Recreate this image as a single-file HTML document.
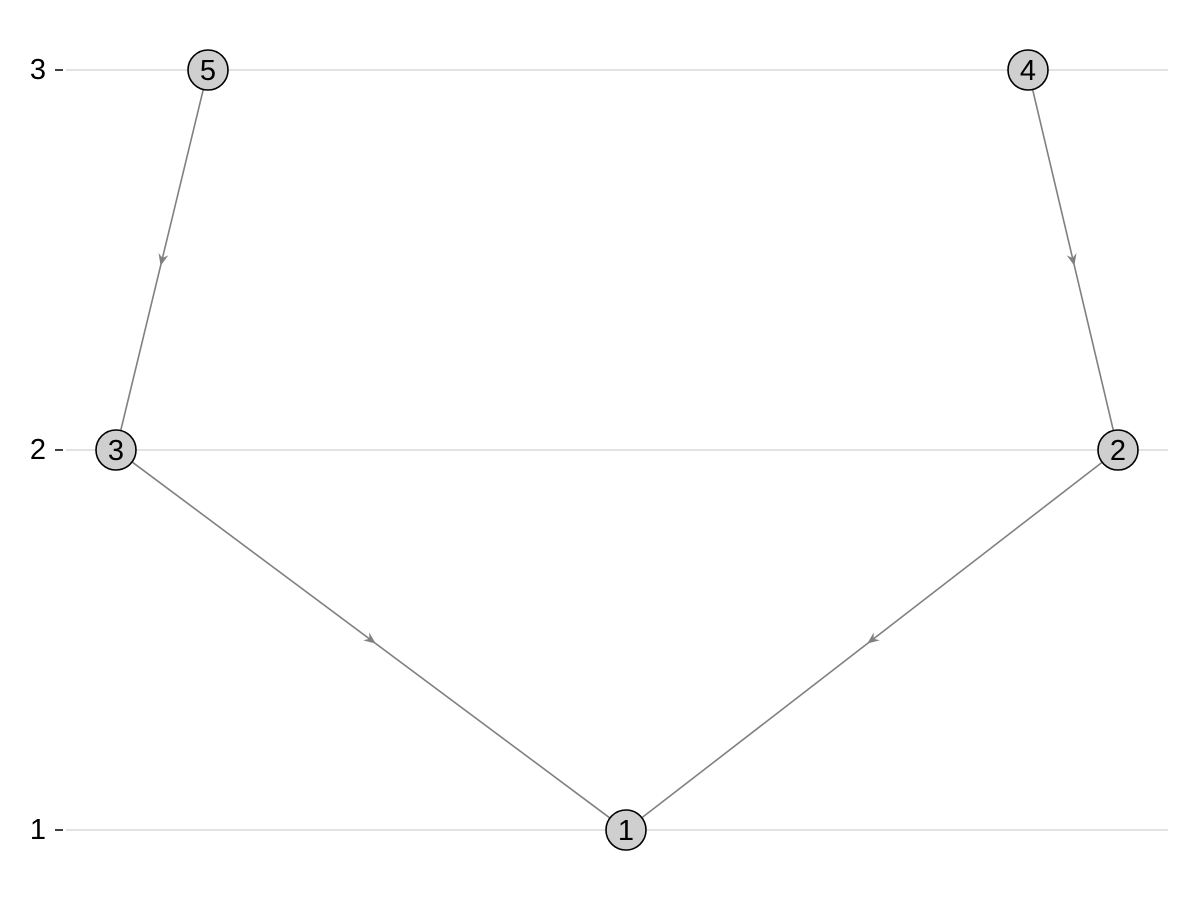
<!DOCTYPE html>
<html><head><meta charset="utf-8"><style>
body{margin:0;background:#fff;}
svg{display:block;font-family:"Liberation Sans",sans-serif;}
</style></head><body>
<svg id="chart" width="1200" height="900" viewBox="0 0 1200 900">
<g id="axis"></g>
<g id="edges"></g>
<g id="nodes"></g>
</svg>
<script>
const nodeIds = [1, 2, 3, 4, 5];
const nodeX = [626, 1118, 116, 1028, 208];
const nodeLevel = [1, 2, 2, 3, 3];
const edgeFrom = [5, 4, 3, 2];
const edgeTo = [3, 2, 1, 1];
const yTicks = [1, 2, 3];

const NS = "http://www.w3.org/2000/svg";
const yScale = v => 830 - (v - 1) * 380;
const R = 20;
const FS = 29;
function mk(tag, attrs, parent) {
  const e = document.createElementNS(NS, tag);
  for (const k in attrs) e.setAttribute(k, attrs[k]);
  parent.appendChild(e);
  return e;
}
const axis = document.getElementById('axis');
yTicks.forEach(t => {
  const y = yScale(t);
  const g = mk('line', {x1: 66, x2: 1168, y1: y, y2: y, stroke: '#d9d9d9', 'stroke-width': 1.5}, axis);
  
  
  const tk = mk('line', {x1: 55, x2: 63, y1: y, y2: y, stroke: '#000', 'stroke-width': 1.5}, axis);
  
  
  const tx = mk('text', {x: 38, y: y + 9, 'text-anchor': 'middle', fill: '#000', 'font-size': FS, 'font-family': 'Liberation Sans, sans-serif'}, axis);
  tx.textContent = t;
  
  
});
const pos = id => { const i = nodeIds.indexOf(id); return [nodeX[i], yScale(nodeLevel[i])]; };
const edges = document.getElementById('edges');
edgeFrom.forEach((f, i) => {
  const [x1, y1] = pos(f), [x2, y2] = pos(edgeTo[i]);
  const dx = x2 - x1, dy = y2 - y1, L = Math.hypot(dx, dy), ux = dx / L, uy = dy / L;
  const l = mk('line', {x1: x1 + ux * R, y1: y1 + uy * R, x2: x2 - ux * R, y2: y2 - uy * R, stroke: '#808080', 'stroke-width': 1.6}, edges);
  
  
  const mx = (x1 + x2) / 2 + ux * 6, my = (y1 + y2) / 2 + uy * 6;
  const bx = mx - ux * 12, by = my - uy * 12, nx = -uy, ny = ux;
  const cx = mx - ux * 8, cy = my - uy * 8;
  const p = mk('polygon', {points: `${mx},${my} ${bx + nx * 5},${by + ny * 5} ${cx},${cy} ${bx - nx * 5},${by - ny * 5}`, fill: '#808080'}, edges);
  
  
});
const nodes = document.getElementById('nodes');
nodeIds.forEach((id) => {
  const [x, y] = pos(id);
  const c = mk('circle', {cx: x, cy: y, r: R, fill: '#cfcfcf', stroke: '#000', 'stroke-width': 1.6}, nodes);
  
  
  const t = mk('text', {x: x, y: y + 10, 'text-anchor': 'middle', fill: '#000', 'font-size': FS, 'font-family': 'Liberation Sans, sans-serif'}, nodes);
  t.textContent = id;
  
  
});
</script>
</body></html>
